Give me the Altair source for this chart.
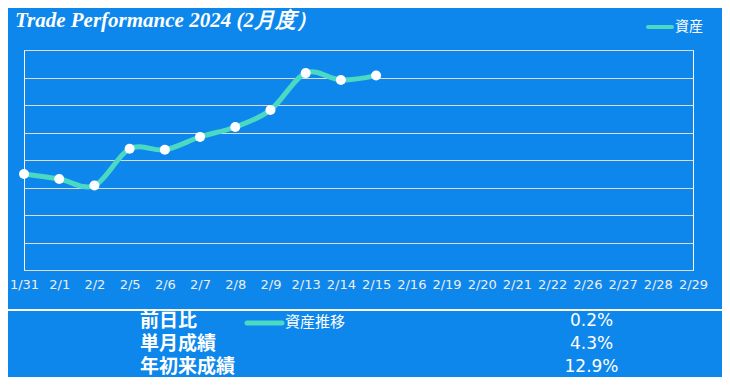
import altair as alt
import pandas as pd

# ---- data ----
dates = ["1/31", "2/1", "2/2", "2/5", "2/6", "2/7", "2/8", "2/9", "2/13", "2/14",
         "2/15", "2/16", "2/19", "2/20", "2/21", "2/22", "2/26", "2/27", "2/28", "2/29"]
asset_dates = dates[:11]
asset_values = [3.49, 3.31, 3.07, 4.41, 4.37, 4.84, 5.20, 5.82, 7.16, 6.91, 7.07]
stat_labels = ["前日比", "単月成績", "年初来成績"]
stat_values = ["0.2%", "4.3%", "12.9%"]
title_text = "Trade Performance 2024 (2月度）"
legend_top = "資産"
legend_bottom = "資産推移"

BG = "#0d87eb"
TEAL = "#4cd9c3"

df = pd.DataFrame({"date": asset_dates, "value": asset_values})

xscale = alt.Scale(domain=dates, type="point", padding=0)
yscale = alt.Scale(domain=[0, 8], nice=False)

xenc = alt.X("date:N", scale=xscale, sort=dates,
             axis=alt.Axis(title=None, labelAngle=0, ticks=False, domain=False, grid=False,
                           labelColor="#eeeeee", labelFontSize=13, labelFont="DejaVu Sans",
                           labelPadding=8))
yenc = alt.Y("value:Q", scale=yscale,
             axis=alt.Axis(title=None, labels=False, ticks=False, domain=False, grid=True,
                           gridColor="#dcdcdc", gridWidth=1, values=list(range(9))))

line = alt.Chart(df).mark_line(interpolate="cardinal", color=TEAL, strokeWidth=5).encode(x=xenc, y=yenc)
pts = alt.Chart(df).mark_circle(size=100, color="white", opacity=1).encode(x=xenc, y=yenc)

one = pd.DataFrame({"t": [title_text]})
title = alt.Chart(one).mark_text(align="left", baseline="alphabetic", font="Liberation Serif",
                                 fontStyle="italic", fontWeight="bold", fontSize=21,
                                 color="white").encode(x=alt.value(-9), y=alt.value(-23), text="t:N")

leg1_line = alt.Chart(one).mark_rule(color=TEAL, strokeWidth=4, strokeCap="round").encode(
    x=alt.value(624), x2=alt.value(648), y=alt.value(-23))
leg1_text = alt.Chart(pd.DataFrame({"t": [legend_top]})).mark_text(
    align="left", baseline="middle", fontSize=14, font="Noto Sans CJK JP", color="white").encode(
    x=alt.value(651), y=alt.value(-23), text="t:N")

sep = alt.Chart(one).mark_rule(color="white", strokeWidth=2).encode(
    x=alt.value(-24), x2=alt.value(706), y=alt.value(260))

leg2_line = alt.Chart(one).mark_rule(color=TEAL, strokeWidth=5, strokeCap="round").encode(
    x=alt.value(223), x2=alt.value(258), y=alt.value(273))
leg2_text = alt.Chart(pd.DataFrame({"t": [legend_bottom]})).mark_text(
    align="left", baseline="middle", fontSize=15, font="Noto Sans CJK JP", color="white").encode(
    x=alt.value(261), y=alt.value(272), text="t:N")

layers = [line, pts, title, leg1_line, leg1_text, sep, leg2_line, leg2_text]
for i, (lab, val) in enumerate(zip(stat_labels, stat_values)):
    row = pd.DataFrame({"lab": [lab], "val": [val]})
    ypos = 271 + 23 * i
    layers.append(alt.Chart(row).mark_text(align="left", baseline="middle", fontSize=19,
                                           fontWeight="bold", font="Noto Sans CJK JP", color="white")
                  .encode(x=alt.value(116), y=alt.value(ypos), text="lab:N"))
    layers.append(alt.Chart(row).mark_text(align="center", baseline="middle", fontSize=17,
                                           font="DejaVu Sans", color="white")
                  .encode(x=alt.value(567.5), y=alt.value(ypos), text="val:N"))

# page has an 8px margin on every side: the svg is 714x369 placed at (8, 8);
# the padding is chosen so the plot area lands at the reference's (24..693, 50..270)
chart = alt.layer(*layers).properties(
    width=669, height=220,
    padding={"left": 16, "top": 42, "right": 29, "bottom": 107},
    autosize=alt.AutoSizeParams(type="none"),
    background=BG,
).configure_view(stroke="white", strokeWidth=1)

chart.save("out.html", embed_options={"renderer": "svg", "actions": False})
